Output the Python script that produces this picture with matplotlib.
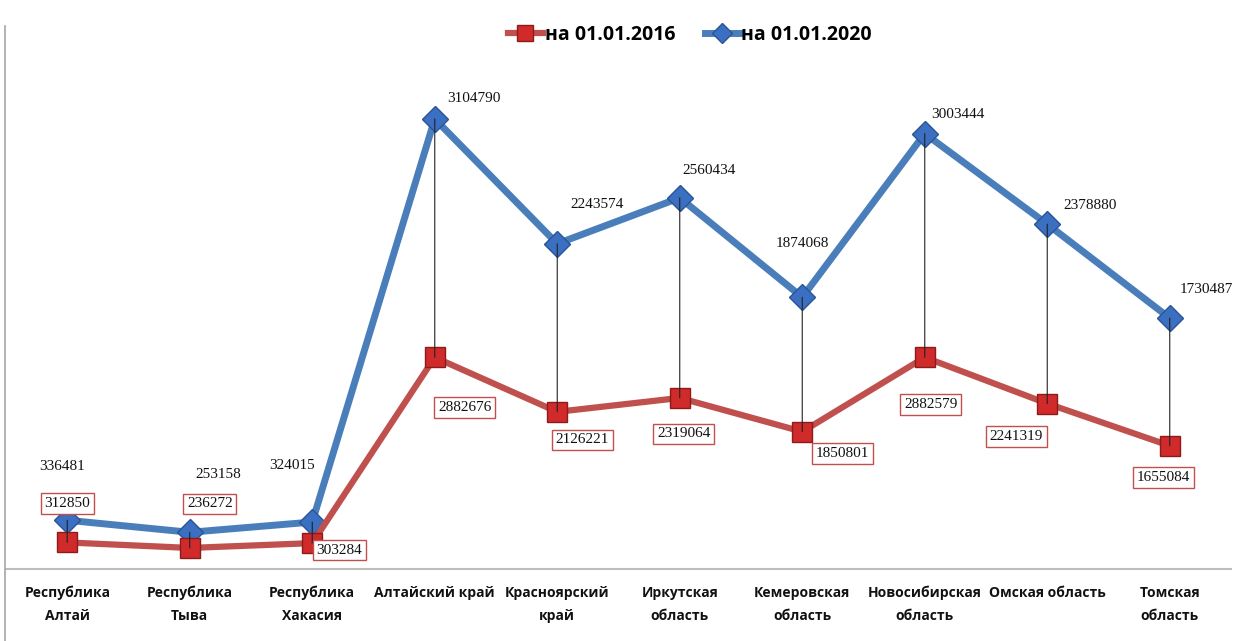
import matplotlib
matplotlib.use("Agg")
import matplotlib.pyplot as plt
from matplotlib.lines import Line2D
from matplotlib.patches import ConnectionPatch

# ---- data ----
regions = ["Республика\nАлтай", "Республика\nТыва", "Республика\nХакасия",
           "Алтайский край", "Красноярский\nкрай", "Иркутская\nобласть",
           "Кемеровская\nобласть", "Новосибирская\nобласть", "Омская область",
           "Томская\nобласть"]
pop_2016 = [312850, 236272, 303284, 2882676, 2126221, 2319064, 1850801, 2882579, 2241319, 1655084]
pop_2020 = [336481, 253158, 324015, 3104790, 2243574, 2560434, 1874068, 3003444, 2378880, 1730487]

# label offsets (pixels) from the points
off_2016 = [(0, 39), (20, 44), (27, -7), (30, -50), (25, -28), (4, -36),
            (40, -22), (6, -47), (-31, -33), (-6, -32)]
off_2020 = [(-5, 54), (28, 58), (-20, 57), (39, 20), (40, 39), (29, 27),
            (0, 54), (33, 19), (43, 19), (37, 29)]

RED = "#c0504d"
BLUE = "#4a7ebb"

W, H = 1247, 641
fig = plt.figure(figsize=(W / 100, H / 100), dpi=100)
ax = fig.add_axes([6 / W, 72 / H, 1225 / W, 519 / H])
ax2 = ax.twinx()

x = list(range(len(regions)))

ax.plot(x, pop_2020, color=BLUE, lw=5, marker="D", ms=13,
        mfc="#3b6fc2", mec="#2a5595", mew=1, zorder=3)
ax2.plot(x, pop_2016, color=RED, lw=4.5, marker="s", ms=15,
         mfc="#d02a2a", mec="#8c1c1c", mew=1, zorder=3)

ax.set_xlim(-0.5, len(regions) - 0.5)
ax.set_ylim(0, 3.58e6)
ax2.set_ylim(-0.056e6, 7.15e6)

# drop lines between the two series
for i in x:
    con = ConnectionPatch(xyA=(i, pop_2020[i]), coordsA=ax.transData,
                          xyB=(i, pop_2016[i]), coordsB=ax2.transData,
                          color="#222222", lw=0.8, zorder=5)
    ax2.add_artist(con)

# data labels
for i in x:
    ax.annotate(str(pop_2020[i]), (i, pop_2020[i]), xytext=off_2020[i],
                textcoords="offset pixels", ha="center", va="center",
                fontsize=11, family="Liberation Serif", color="#111111")
    ax2.annotate(str(pop_2016[i]), (i, pop_2016[i]), xytext=off_2016[i],
                 textcoords="offset pixels", ha="center", va="center",
                 fontsize=11, family="Liberation Serif", color="#111111",
                 bbox=dict(boxstyle="square,pad=0.25", fc="white", ec=RED, lw=1),
                 zorder=6)

ax.set_xticks(x)
ax.set_xticklabels(regions, fontsize=10, fontweight="bold",
                   family=["Open Sans", "DejaVu Sans"], color="#111111")
for lbl in ax.get_xticklabels():
    lbl.set_linespacing(1.85)
ax.tick_params(axis="x", length=0, pad=12)
ax.set_yticks([])
ax2.set_yticks([])

for a in (ax, ax2):
    for s in ("top", "right"):
        a.spines[s].set_visible(False)
ax2.spines["left"].set_visible(False)
ax2.spines["bottom"].set_visible(False)
ax.spines["bottom"].set_color("#bdbdbd")
ax.spines["bottom"].set_linewidth(1.5)
ax.spines["left"].set_visible(False)

# chart border on the left
fig.add_artist(Line2D([5 / W, 5 / W], [0, 0.96], color="#a6a6a6", lw=1.2))

handles = [
    Line2D([], [], color=RED, lw=4.5, marker="s", ms=12, mfc="#d02a2a", mec="#8c1c1c"),
    Line2D([], [], color=BLUE, lw=5, marker="D", ms=10, mfc="#3b6fc2", mec="#2a5595"),
]
fig.legend(handles, ["на 01.01.2016", "на 01.01.2020"], loc="center",
           bbox_to_anchor=(690 / W, 1 - 35 / H), ncol=2, frameon=False,
           handlelength=1.8, handletextpad=0.1, columnspacing=1.5,
           prop=dict(family=["Open Sans", "DejaVu Sans"], weight="bold", size=14))

fig.savefig("out.png", dpi=100, facecolor="white")
